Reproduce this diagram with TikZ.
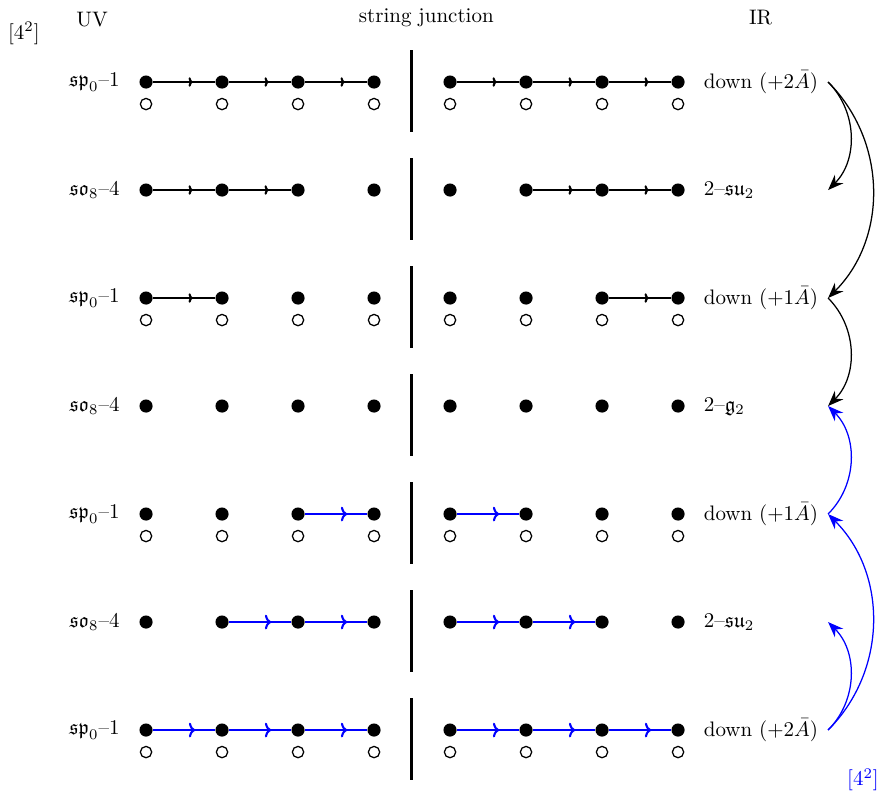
\documentclass[tikz,border=0pt]{standalone}
\usepackage{amssymb}
\usepackage{tikz}
\usetikzlibrary{arrows.meta, decorations.markings, calc}
\usepackage{xcolor}
\definecolor{flowBlue}{HTML}{0000FF}
\tikzset{
    FullDot/.style={circle, fill=black, inner sep=0pt, minimum size=0.22cm},
    OpenDot/.style={circle, draw=black, fill=white, line width=0.6pt, inner sep=0pt, minimum size=0.19cm},
    JunctionBar/.style={line width=1.4pt},
    HeadText/.style={anchor=center},
    UVText/.style={anchor=east},
    IRText/.style={anchor=west},
    BlackChain/.style={line width=1pt, postaction={decorate},
        decoration={markings, mark=at position 0.64 with {\arrow{To[length=2pt,width=4.5pt]}}}},
    BlueChain/.style={flowBlue, line width=1pt, postaction={decorate},
        decoration={markings, mark=at position 0.68 with {\arrow{To[length=3pt,width=7pt]}}}},
    FlowArrow/.style={-{Stealth[length=2.6mm,width=2mm]}, line width=0.6pt}
}
\begin{document}
\begin{tikzpicture}[x=1cm, y=1cm]
    % 页面范围
    \useasboundingbox (0, 0) rectangle (14.874, -13.4);
    \def\rowTop{-1.374}
    \def\rowGap{1.809}
    \def\openGap{0.369}
    \def\barX{6.90}
    \def\irX{13.87}

    % --- 标题 ---
    \node[HeadText] (tagL) at (0.40, -0.56) {$[4^2]$};
    \node[HeadText] (uv) at (1.541, -0.335) {UV};
    \node[HeadText] (sj) at (7.14, -0.293) {string junction};
    \node[HeadText] (ir) at (12.74, -0.293) {IR};

    % --- 每一行:点、空心点、竖线、左右标签 ---
    \foreach \r/\uvLab/\irLab/\hasOpen in {
        1/{$\mathfrak{sp}_0$--1}/{down ($+2\bar{A}$)}/1,
        2/{$\mathfrak{so}_8$--4}/{2--$\mathfrak{su}_2$}/0,
        3/{$\mathfrak{sp}_0$--1}/{down ($+1\bar{A}$)}/1,
        4/{$\mathfrak{so}_8$--4}/{2--$\mathfrak{g}_2$}/0,
        5/{$\mathfrak{sp}_0$--1}/{down ($+1\bar{A}$)}/1,
        6/{$\mathfrak{so}_8$--4}/{2--$\mathfrak{su}_2$}/0,
        7/{$\mathfrak{sp}_0$--1}/{down ($+2\bar{A}$)}/1} {
        \pgfmathsetmacro{\rowY}{\rowTop-(\r-1)*\rowGap}
        \foreach \c/\x in {1/2.446, 2/3.719, 3/4.992, 4/6.265, 5/7.538, 6/8.811, 7/10.084, 8/11.357} {
            \node[FullDot] (d\r-\c) at (\x, \rowY) {};
            \ifnum\hasOpen=1
                \node[OpenDot] (o\r-\c) at (\x, \rowY-\openGap) {};
            \fi
        }
        \draw[JunctionBar] (\barX, \rowY+0.536) -- (\barX, \rowY-0.838);
        \node[UVText] (uv\r) at (2.127, \rowY) {\uvLab};
        \node[IRText] (irl\r) at (11.665, \rowY) {\irLab};
        \coordinate (ir\r) at (\irX, \rowY);
    }

    % --- 黑色链 ---
    \foreach \r/\a/\b in {1/1/2, 1/2/3, 1/3/4, 1/5/6, 1/6/7, 1/7/8,
                          2/1/2, 2/2/3, 2/6/7, 2/7/8,
                          3/1/2, 3/7/8}
        \draw[BlackChain] (d\r-\a) -- (d\r-\b);

    % --- 蓝色链 ---
    \foreach \r/\a/\b in {5/3/4, 5/5/6,
                          6/2/3, 6/3/4, 6/5/6, 6/6/7,
                          7/1/2, 7/2/3, 7/3/4, 7/5/6, 7/6/7, 7/7/8}
        \draw[BlueChain] (d\r-\a) -- (d\r-\b);

    % --- 右侧弯箭头 ---
    \draw[FlowArrow] (ir1) to[bend left=45] (ir2);
    \draw[FlowArrow] (ir1) to[bend left=45] (ir3);
    \draw[FlowArrow] (ir3) to[bend left=45] (ir4);
    \draw[FlowArrow, flowBlue] (ir5) to[bend right=45] (ir4);
    \draw[FlowArrow, flowBlue] (ir7) to[bend right=45] (ir5);
    \draw[FlowArrow, flowBlue] (ir7) to[bend right=45] (ir6);

    \node[HeadText, text=flowBlue] (tagR) at (14.455, -13.065) {$[4^2]$};
\end{tikzpicture}
\end{document}
